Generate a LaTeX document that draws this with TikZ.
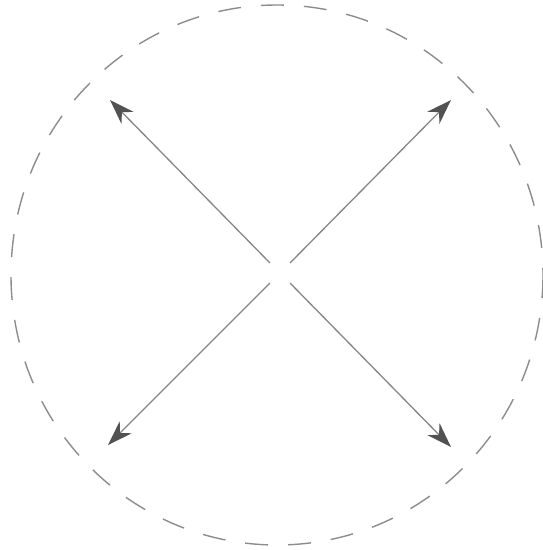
\documentclass[tikz,border=0pt]{standalone}
\usepackage{tikz}
\usetikzlibrary{arrows.meta}
\tikzset{
  ring/.style={draw=black!45, line width=1.4pt, dash pattern=on 23pt off 20pt},
  arr/.style={-{Stealth[length=25pt, width=17pt, inset=8pt, color=black!68]}, draw=black!48, line width=1.3pt}
}
\begin{document}
\begin{tikzpicture}[x=1pt, y=-1pt]
\useasboundingbox (0,0) rectangle (543,550);
\draw[ring] (277,275) ellipse [x radius=266, y radius=270];
\coordinate (s1) at (270,263); \coordinate (t1) at (110,100);
\coordinate (s2) at (290,263); \coordinate (t2) at (451,100);
\coordinate (s3) at (270,283); \coordinate (t3) at (108,445);
\coordinate (s4) at (290,283); \coordinate (t4) at (451,447);
\draw[arr] (s1) -- (t1); \draw[arr] (s2) -- (t2); \draw[arr] (s3) -- (t3); \draw[arr] (s4) -- (t4);
\end{tikzpicture}
\end{document}
